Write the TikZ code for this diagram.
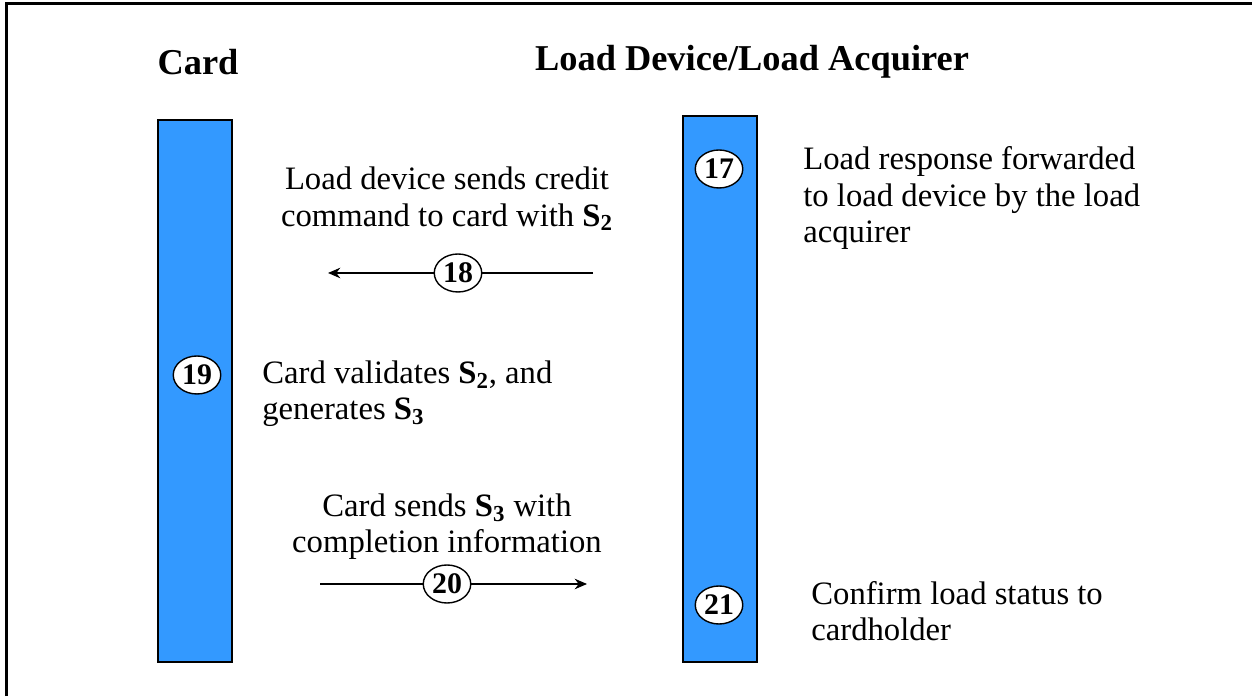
\documentclass[tikz,border=0pt]{standalone}
\usepackage{fontspec}
\setmainfont{Liberation Serif}
\usepackage{tikz}
\usetikzlibrary{shapes.geometric, arrows.meta, positioning}
\usepackage{xcolor}
\definecolor{barblue}{RGB}{51, 153, 255}
\tikzset{
  lifebar/.style   = {draw=black, line width=1pt, fill=barblue},
  stepno/.style    = {ellipse, draw=black, line width=0.8pt, fill=white, minimum width=0.95cm, minimum height=0.76cm, inner sep=0pt, font=\fontsize{17}{17}\selectfont\bfseries},
  msg/.style       = {-{Stealth[length=7pt, width=6pt]}, line width=0.9pt, black},
  lbl/.style       = {align=left, inner sep=0pt, font=\fontsize{18.6}{20.6}\selectfont},
  lblc/.style      = {align=center, inner sep=0pt, font=\fontsize{18.6}{20.6}\selectfont},
  head/.style      = {inner sep=0pt, font=\fontsize{20.7}{22}\selectfont\bfseries},
}
\newcommand{\Sub}[1]{\textbf{S\textsubscript{#1}}}

\begin{document}
\begin{tikzpicture}[>=Stealth]

\useasboundingbox (0,0) rectangle (25.04,13.92);
% rahmen
\draw[line width=1.7pt] (0.13,0) -- (0.13,13.85) -- (25.04,13.85);

% ===== Kopf =====
\node[head] (hcard) at (3.96,12.68) {Card};
\node[head] (hload) at (15.04,12.68) {Load Device/Load Acquirer};

% ===== Balken =====
\draw[lifebar] (3.16,0.68) rectangle (4.64,11.52);
\draw[lifebar] (13.66,0.68) rectangle (15.14,11.60);

% ===== Schritte =====
\node[stepno] (s17) at (14.38,10.54) {17};
\node[stepno] (s18) at (9.16,8.46) {18};
\node[stepno] (s19) at (3.94,6.42) {19};
\node[stepno] (s20) at (8.94,2.24) {20};
\node[stepno] (s21) at (14.38,1.82) {21};

% Pfeilenden
\coordinate (a18) at (11.86,8.46);
\coordinate (b18) at (6.56,8.46);
\coordinate (a20) at (6.40,2.24);
\coordinate (b20) at (11.74,2.24);

% Nachrichten
\draw[msg] (a18) -- (s18) -- (b18);
\draw[msg] (a20) -- (s20) -- (b20);

% ===== Texte =====
\node[lbl, anchor=west] (t17) at (16.06,9.96) {Load response forwarded\\to load device by the load\\acquirer};
\node[lblc] (t18) at (8.94,9.94) {Load device sends credit\\command to card with \Sub{2}};
\node[lbl, anchor=west] (t19) at (5.24,6.04) {Card validates \Sub{2}, and\\generates \Sub{3}};
\node[lblc] (t20) at (8.94,3.38) {Card sends \Sub{3} with\\completion information};
\node[lbl, anchor=west] (t21) at (16.22,1.70) {Confirm load status to\\cardholder};

\end{tikzpicture}
\end{document}
